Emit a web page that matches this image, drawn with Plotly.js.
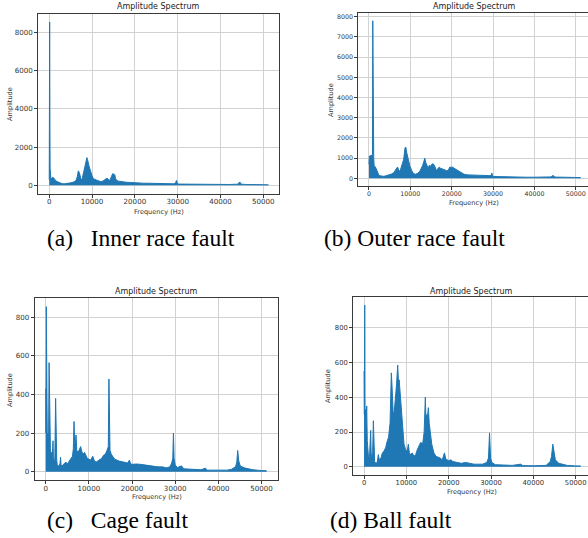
<!DOCTYPE html>
<html><head><meta charset="utf-8">
<script src="https://cdn.plot.ly/plotly-3.0.1.min.js"></script>
<style>html,body{margin:0;padding:0;background:#fff;}#chart{width:588px;height:538px;}</style>
</head><body><div id="chart"></div>
<script>
// ---- data ----
const chartTitle = "Amplitude Spectrum";
const xLabel = "Frequency (Hz)";
const yLabel = "Amplitude";
const captions = ["(a)\u00a0\u00a0\u00a0Inner race fault", "(b) Outer race fault", "(c)\u00a0\u00a0\u00a0Cage fault", "(d) Ball fault"];

// (a) Inner race fault
const freqA = [0,40,70,100,130,160,200,260,400,600,800,1000,1200,1500,1800,2000,2500,3000,3500,4000,4500,5000,5500,6000,6300,6550,6800,7050,7300,7500,7700,8000,8300,8500,8800,8950,9100,9300,9500,9700,10000,10300,10700,11000,11500,12000,12500,13000,13300,13500,13800,14200,14500,14850,15050,15300,15500,15800,16200,17000,18000,19000,20000,21000,22000,23000,24000,25000,26000,27000,28000,29000,29500,29700,29900,30200,31000,32000,34000,36000,38000,40000,42000,44000,44300,44500,44700,45000,46000,48000,50000,51200];
const ampA  = [300,2850,7000,8540,7000,2850,900,350,300,380,420,400,330,250,200,180,120,90,80,90,110,130,160,200,280,450,760,650,420,300,350,650,800,1000,1450,1350,1100,1000,850,650,500,350,290,280,240,200,220,300,360,380,300,260,450,620,580,560,350,250,220,180,160,150,130,120,110,110,100,100,95,90,85,80,110,260,120,70,65,60,55,55,50,50,45,60,120,180,100,60,45,40,35,30];

// (b) Outer race fault
const freqB = [0,100,300,500,700,850,920,980,1080,1150,1250,1500,1700,2000,2300,2600,3000,3500,4000,4500,5000,5500,6000,6300,6600,6900,7200,7500,7800,8100,8400,8700,8900,9100,9300,9600,9900,10300,10700,11200,11800,12300,12700,13000,13300,13500,13700,14000,14300,14600,14900,15200,15500,15800,16100,16400,16700,17000,17300,17600,18000,18400,18800,19200,19500,19800,20200,20600,21000,21500,22000,22500,23000,24000,25000,26000,27000,28000,29000,29500,29700,29900,30200,31000,32000,33000,35000,38000,40000,42000,44000,44300,44500,44800,45200,47000,49000,51200];
const ampB  = [700,1100,1100,1150,1100,1200,7800,2000,3000,1000,600,580,500,300,200,130,100,100,120,150,180,220,280,400,520,560,400,350,550,750,950,1500,1550,1300,1100,800,600,400,250,200,250,350,500,650,850,1000,800,600,500,650,600,700,720,650,450,350,500,550,500,480,450,400,380,400,550,550,550,500,450,380,300,250,200,170,160,150,130,110,100,130,260,120,90,85,70,60,55,55,55,55,70,100,150,80,60,55,45,35];

// (c) Cage fault
const freqC = [0,60,130,200,300,380,500,650,780,880,990,1080,1200,1350,1500,1680,1780,1900,2100,2290,2380,2440,2550,2700,3000,3300,3430,3550,3800,4200,4650,5000,5400,5800,6200,6400,6560,6700,6850,7020,7200,7500,7800,8090,8300,8600,9000,9300,9600,10000,10400,10900,11300,11700,12100,12500,13000,13400,13800,14200,14500,14650,14750,14900,15200,15500,16000,17000,18000,19000,19400,19700,20000,21000,22000,23000,24000,25000,26000,27000,28000,28800,29200,29450,29600,29750,30000,30500,31500,32000,34000,36000,37000,37500,40000,42000,43000,44000,44300,44500,44750,45100,46000,47000,48000,50000,51200];
const ampC  = [430,200,855,250,220,120,200,150,565,250,330,120,90,100,60,160,80,50,40,380,150,220,60,30,30,40,75,35,30,40,50,40,55,65,80,120,260,150,130,190,110,100,120,130,110,90,100,80,70,65,60,80,55,50,55,60,70,85,90,110,130,480,140,110,90,80,65,55,50,45,60,40,38,40,38,35,30,27,25,25,20,25,45,70,200,70,35,22,30,15,12,10,18,8,8,8,12,25,50,110,55,30,20,15,10,6,5];

// (d) Ball fault
const freqD = [0,80,160,240,310,450,630,760,900,1100,1300,1570,1680,1850,2000,2200,2330,2500,2800,3100,3380,3600,4000,4330,4700,5100,5500,5800,6140,6450,6600,6750,6900,7150,7500,7700,7950,8150,8300,8500,8800,9100,9440,9800,10200,10470,10700,11000,11400,11800,12200,12600,13000,13380,13700,13900,14200,14480,14650,14800,15000,15200,15400,15700,16000,16500,17000,17500,18000,18500,19000,19300,20000,20500,21000,22000,23000,24000,25000,26000,27000,28000,29000,29400,29650,29900,30200,31000,33000,35000,37000,37500,40000,42000,43000,44000,44300,44600,44900,45200,46000,47000,48000,50000,51200];
const ampD  = [550,300,930,300,330,200,350,150,80,40,60,210,80,60,40,265,60,30,20,25,70,40,50,80,90,110,150,170,250,540,470,400,300,320,400,480,585,480,500,430,300,220,130,100,90,130,80,70,80,60,70,100,120,140,135,140,200,400,250,300,290,340,250,180,130,80,60,55,50,40,80,45,35,40,30,25,20,25,20,15,15,15,25,50,195,50,25,12,10,8,15,7,6,6,8,30,60,130,80,40,20,12,8,5,5];

const yTicksA = [0,2000,4000,6000,8000];
const yTicksB = [0,1000,2000,3000,4000,5000,6000,7000,8000];
const yTicksC = [0,200,400,600,800];
const yTicksD = [0,200,400,600,800];
const xTicks = [0,10000,20000,30000,40000,50000];

// ---- layout geometry ----
const panels = [
  {f:freqA, a:ampA, yt:yTicksA, xd:[0.0651,0.4752], yd:[0.6403,0.9743], xr:[-2560,53760], yr:[-427,8967], tf:7.1, mirY:true,
   title:[0.2703,0.987], xl:[0.2703,0.6066], yl:[0.017,0.8067], cap:[0.0765,0.5576]},
  {f:freqB, a:ampB, yt:yTicksB, xd:[0.6095,1.0], yd:[0.6539,0.976], xr:[-2560,52960], yr:[-390,8190], tf:6.3, mirY:false,
   title:[0.8065,0.9888], xl:[0.8065,0.6235], yl:[0.5629,0.8141], cap:[0.5471,0.5576]},
  {f:freqC, a:ampC, yt:yTicksC, xd:[0.059,0.4722], yd:[0.1078,0.4454], xr:[-2560,53760], yr:[-43,898], tf:7.1, mirY:true,
   title:[0.267,0.4591], xl:[0.267,0.0755], yl:[0.017,0.2751], cap:[0.0765,0.0335]},
  {f:freqD, a:ampD, yt:yTicksD, xd:[0.6007,1.0], yd:[0.1175,0.4472], xr:[-2560,52916], yr:[-46,974], tf:6.8, mirY:false,
   title:[0.8022,0.4591], xl:[0.8022,0.0855], yl:[0.5578,0.2825], cap:[0.5583,0.0335]}
];

const FONT = "DejaVu Sans";
const blue = "#1f77b4";
const traces = [];
const layout = {
  width:588, height:538, margin:{l:0,r:0,t:0,b:0},
  paper_bgcolor:"#ffffff", plot_bgcolor:"#ffffff",
  showlegend:false, hovermode:false, annotations:[]
};

panels.forEach((p,i)=>{
  const n = i===0 ? "" : String(i+1);
  traces.push({x:p.f, y:p.a, xaxis:"x"+n, yaxis:"y"+n, type:"scatter", mode:"lines",
    line:{color:blue, width:1}, fill:"tozeroy", fillcolor:blue});
  const common = {showline:true, linecolor:"#3a3a3a", linewidth:1, ticks:"outside", ticklen:3, tickwidth:1,
    tickcolor:"#3a3a3a", showgrid:true, gridcolor:"#d2d2d2", gridwidth:1, zeroline:false,
    tickfont:{family:FONT, size:p.tf, color:"#333"}, tickformat:"d", fixedrange:true};
  layout["xaxis"+n] = Object.assign({}, common, {domain:p.xd, range:p.xr, anchor:"y"+n,
    tickmode:"array", tickvals:xTicks, mirror:true, ticklabelstandoff:-2});
  layout["yaxis"+n] = Object.assign({}, common, {domain:p.yd, range:p.yr, anchor:"x"+n,
    tickmode:"array", tickvals:p.yt, mirror:p.mirY});
  layout.annotations.push(
    {xref:"paper", yref:"paper", x:p.title[0], y:p.title[1], text:chartTitle, showarrow:false,
     xanchor:"center", yanchor:"middle", font:{family:FONT, size:8, color:"#222"}},
    {xref:"paper", yref:"paper", x:p.xl[0], y:p.xl[1], text:xLabel, showarrow:false,
     xanchor:"center", yanchor:"middle", font:{family:FONT, size:6.6, color:"#333"}},
    {xref:"paper", yref:"paper", x:p.yl[0], y:p.yl[1], text:yLabel, showarrow:false, textangle:-90,
     xanchor:"center", yanchor:"middle", font:{family:FONT, size:6.6, color:"#333"}},
    {xref:"paper", yref:"paper", x:p.cap[0], y:p.cap[1], text:captions[i], showarrow:false,
     xanchor:"left", yanchor:"middle", font:{family:"Liberation Serif", size:23.5, color:"#000"}}
  );
});

Plotly.newPlot("chart", traces, layout, {staticPlot:true, displayModeBar:false});
</script>
</body></html>
